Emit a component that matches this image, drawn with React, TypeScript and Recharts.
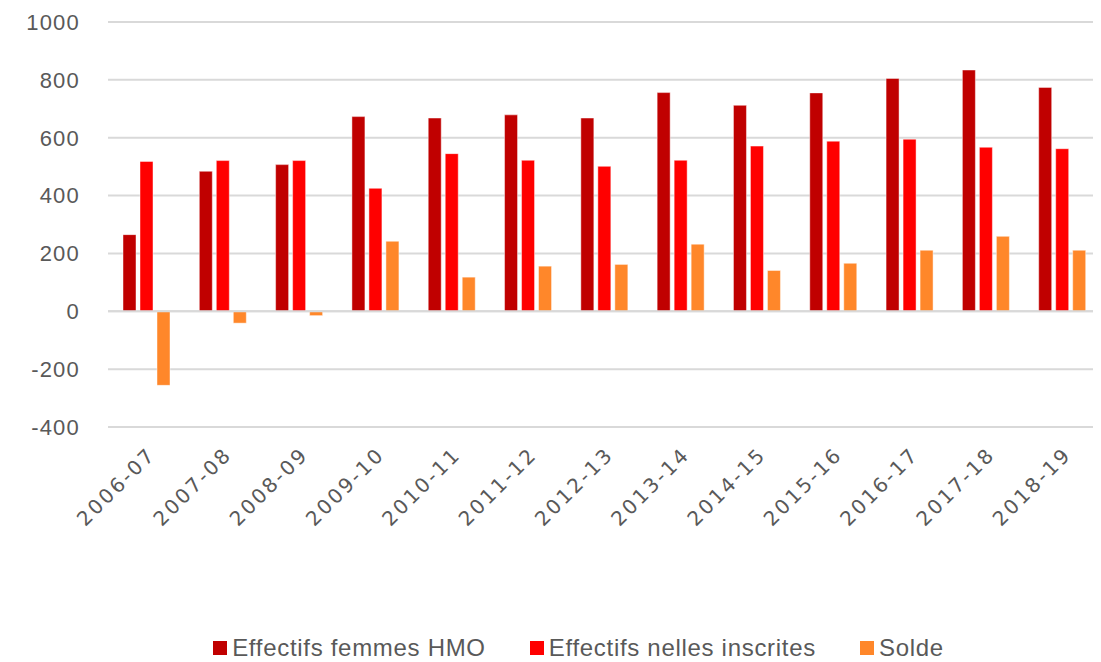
import { BarChart, Bar, XAxis, YAxis, CartesianGrid, Legend, ReferenceLine } from "recharts";

const categories = ["2006-07", "2007-08", "2008-09", "2009-10", "2010-11", "2011-12", "2012-13", "2013-14", "2014-15", "2015-16", "2016-17", "2017-18", "2018-19"];
const femmesHMO = [265, 484, 507, 673, 668, 679, 668, 756, 712, 755, 805, 834, 774];
const nellesInscrites = [518, 521, 521, 425, 545, 522, 501, 522, 571, 588, 595, 567, 562];
const solde = [-256, -41, -15, 242, 118, 156, 162, 232, 141, 166, 211, 259, 211];
const yTicks = [-400, -200, 0, 200, 400, 600, 800, 1000];

const series = [
  { key: "femmes", name: "Effectifs femmes HMO", color: "#C00000" },
  { key: "inscrites", name: "Effectifs nelles inscrites", color: "#FF0000" },
  { key: "solde", name: "Solde", color: "#FF872A" },
];

const data = categories.map((c, i) => ({
  cat: c,
  femmes: femmesHMO[i],
  inscrites: nellesInscrites[i],
  solde: solde[i],
}));

const FONT = "'Liberation Sans', Arial, sans-serif";

function XTick(props: any) {
  const { x, y, payload } = props;
  return (
    <g transform={`translate(${x + 5},${y + 15})`}>
      <text
        transform="rotate(-45)"
        textAnchor="end"
        fill="#595959"
        fontSize={20}
        fontFamily="'DejaVu Sans', sans-serif"
        letterSpacing={2.5}
        dy={8}
      >
        {payload.value}
      </text>
    </g>
  );
}

function LegendContent() {
  return (
    <div style={{ display: "flex", justifyContent: "center", gap: 44, paddingLeft: 56, fontFamily: FONT, fontSize: 24, lineHeight: "26px", color: "#595959" }}>
      {series.map(s => (
        <div key={s.key} style={{ display: "flex", alignItems: "center" }}>
          <span style={{ width: 14, height: 14, background: s.color, display: "inline-block", marginRight: 5 }} />
          <span style={{ letterSpacing: 0.7 }}>{s.name}</span>
        </div>
      ))}
    </div>
  );
}

export default function App() {
  return (
    <div style={{ marginTop: -8, marginLeft: -8, width: 1101, height: 662, position: "relative", background: "#fff" }}>
      <div style={{ position: "absolute", left: 3, top: 0, width: 2, height: 620, background: "#d9d9d9" }} />
      <BarChart
        width={1101}
        height={662}
        data={data}
        margin={{ top: 22, right: 1, left: 0, bottom: 85 }}
        barGap={4}
        barSize={13}
      >
        <CartesianGrid vertical={false} stroke="#d9d9d9" strokeWidth={2} />
        <XAxis
          dataKey="cat"
          axisLine={false}
          tickLine={false}
          interval={0}
          height={150}
          tick={<XTick />}
        />
        <YAxis
          domain={[-400, 1000]}
          ticks={yTicks}
          width={108}
          axisLine={false}
          tickLine={false}
          tickSize={0}
          tickMargin={28}
          tick={{ fill: "#595959", fontSize: 22, fontFamily: FONT, letterSpacing: 1.2 }}
        />
        <ReferenceLine y={0} stroke="#d9d9d9" strokeWidth={2} />
        {series.map(s => (
          <Bar
            key={s.key}
            dataKey={s.key}
            name={s.name}
            fill={s.color}
            stroke="rgba(255,255,255,0.45)"
            strokeWidth={1}
            isAnimationActive={false}
          />
        ))}
        <Legend
          layout="horizontal"
          verticalAlign="middle"
          align="center"
          content={<LegendContent />}
          wrapperStyle={{ top: 635, left: 0, width: 1101, height: 26, overflow: "visible" }}
        />
      </BarChart>
    </div>
  );
}
